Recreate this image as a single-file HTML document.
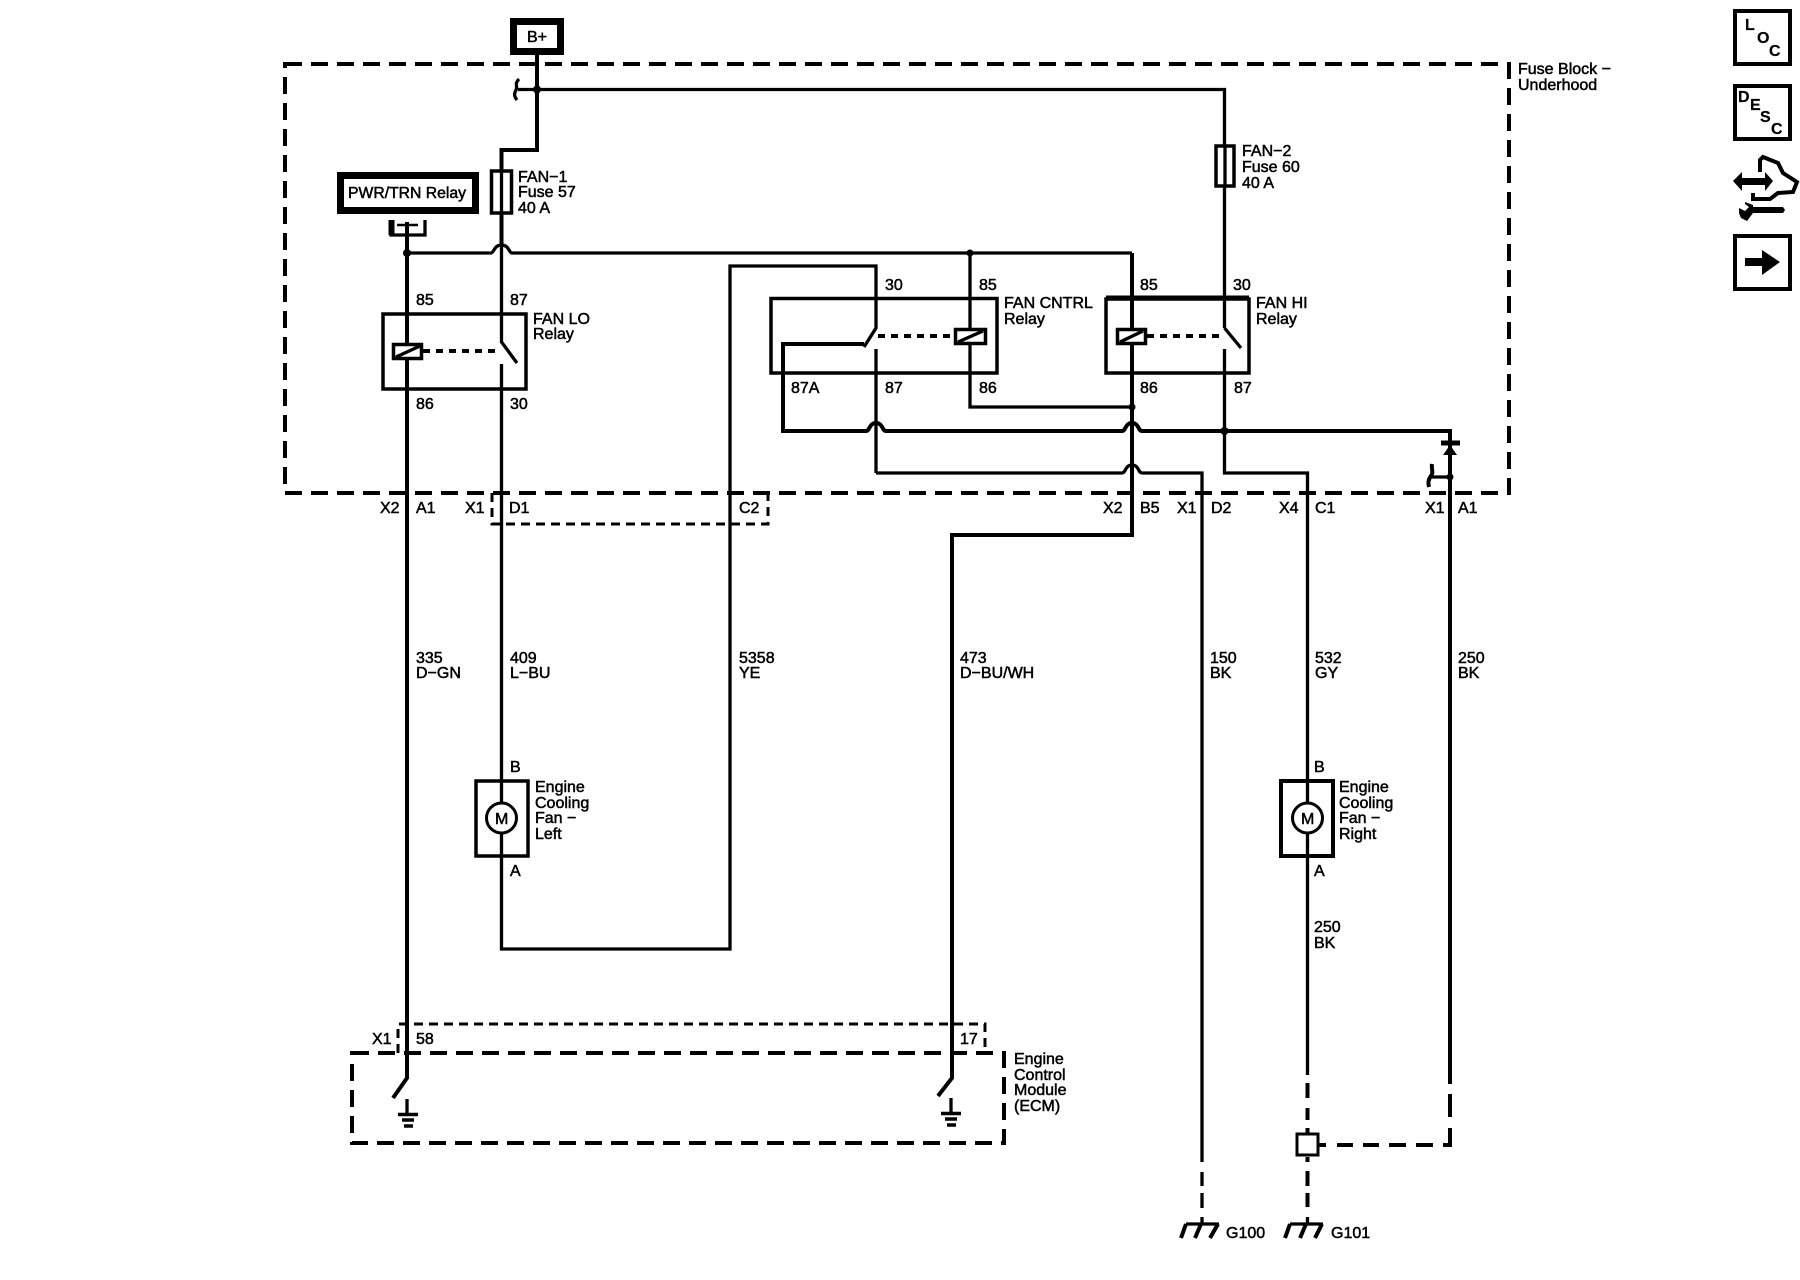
<!DOCTYPE html>
<html><head><meta charset="utf-8"><style>
html,body{margin:0;padding:0;background:#fff}
svg{display:block}
text{font-family:"Liberation Sans",sans-serif;font-size:16px;fill:#000;stroke:#000;stroke-width:.5}
.w{fill:none;stroke:#000;stroke-width:3.3}
.t{fill:none;stroke:#000;stroke-width:4}
.d{fill:none;stroke:#000;stroke-width:4;stroke-dasharray:17 9}
.s{fill:none;stroke:#000;stroke-width:3;stroke-dasharray:9 6}
.c{fill:none;stroke:#000;stroke-width:4;stroke-dasharray:7 6}
.b{fill:#fff;stroke:#000;stroke-width:3.5}
.n{fill:none;stroke:#000;stroke-width:3.5}
.i{font-weight:bold;font-size:16px;stroke-width:.2}
</style></head><body>
<svg width="1800" height="1280" viewBox="0 0 1800 1280" xmlns="http://www.w3.org/2000/svg">
<rect width="1800" height="1280" fill="#fff"/>
<!-- dashed enclosures -->
<rect x="285" y="64" width="1224" height="429" class="d"/>
<path d="M492 493V524H768V493" class="s"/>
<path d="M398 1053V1024H985V1053" class="s"/>
<rect x="352" y="1053" width="652" height="90" class="d"/>
<!-- B+ -->
<rect x="513.500" y="21.500" width="47" height="30" fill="#fff" stroke="#000" stroke-width="7"/>
<text x="527" y="42">B+</text>
<path d="M537 55V150H501.500V245" class="t"/>
<path d="M537 89.500H1224.500V328" class="w"/>
<circle cx="537" cy="89.500" r="4"/>
<path d="M537 89.500H518" class="w"/>
<path d="M519 79C514 84 518 86 516 90C514 94 514 96 517 100" class="w"/>
<!-- fuses -->
<rect x="491.500" y="171" width="20" height="42" class="b"/>
<path d="M501.500 171V213" class="w"/>
<rect x="1216" y="146" width="18" height="40" class="b"/>
<path d="M1225 146V186" class="w"/>
<!-- PWR/TRN -->
<rect x="340.500" y="175.500" width="135" height="35" fill="#fff" stroke="#000" stroke-width="7"/>
<text x="348" y="198" textLength="118" lengthAdjust="spacingAndGlyphs">PWR/TRN Relay</text>
<path d="M391 220V235H425V220" class="w" stroke-width="4"/>
<path d="M391.500 220V235" stroke="#000" stroke-width="6" fill="none"/>
<path d="M397 225H418" stroke="#000" stroke-width="2.500"/>
<path d="M407 222V1078L393 1098" class="t"/>
<circle cx="407" cy="253" r="4"/>
<!-- ctrl bus -->
<path d="M407 253H491C494 253 494 245 501.500 245C509 245 509 253 512 253H1132" class="w"/>
<circle cx="970" cy="253" r="3.500"/>
<path d="M501.500 245V342L517 363" class="w"/>
<path d="M501.500 364V949H730V266H876V328L864 347" class="w"/>
<path d="M864 344H783V431H866C870 431 869 423 876 423C883 423 882 431 886 431H1122C1126 431 1125 423 1132 423C1139 423 1138 431 1142 431H1450V1084" class="t"/>
<path d="M876 349V473" class="w"/>
<path d="M876 473H1122C1126 473 1125 465 1132 465C1139 465 1138 473 1142 473H1202V1162" class="w"/>
<path d="M1132 253V535H952V1078L938 1096" class="t"/>
<path d="M970 253V407H1132" class="w"/>
<circle cx="1132" cy="407" r="3.500"/>
<path d="M1224.500 328L1241 348" class="w"/>
<path d="M1224.500 349V473H1307.500V1075" class="w"/>
<circle cx="1224.500" cy="431" r="4"/>
<!-- relays -->
<rect x="383" y="314" width="143" height="75" class="n"/>
<rect x="771" y="298.500" width="226" height="74.500" class="n"/>
<rect x="1106" y="299" width="143" height="74" class="n"/>
<path d="M1106 298H1249" stroke="#000" stroke-width="5" fill="none"/>
<!-- relay coils -->
<rect x="393.500" y="344.500" width="28" height="14" class="b"/>
<path d="M396 357L420 346" class="w"/>
<rect x="955.500" y="329.500" width="30" height="14" class="b"/>
<path d="M958 342L983 331" class="w"/>
<rect x="1117.500" y="329.500" width="28" height="14" class="b"/>
<path d="M1120 342L1143 331" class="w"/>
<path d="M423 351H500" class="c"/>
<path d="M878 336H954" class="c"/>
<path d="M1147 336H1224" class="c"/>
<!-- diode + stub -->
<path d="M1441 443H1460" stroke="#000" stroke-width="5" fill="none"/>
<path d="M1450 445L1457 455H1443Z"/>
<path d="M1430 477H1450" class="w"/>
<circle cx="1450" cy="477" r="3.500"/>
<path d="M1432 464C1431 470 1434 472 1431 476C1428 480 1428 483 1429 487" class="t"/>
<!-- motors -->
<rect x="476" y="781" width="52" height="75" class="b"/>
<path d="M501.500 781V856" class="w"/>
<circle cx="501.500" cy="818" r="15" fill="#fff" stroke="#000" stroke-width="3"/>
<text x="495" y="824">M</text>
<rect x="1281" y="781" width="52" height="75" class="b" style="stroke-width:4"/>
<path d="M1307.500 781V856" class="w"/>
<circle cx="1307.500" cy="818" r="15" fill="#fff" stroke="#000" stroke-width="3"/>
<text x="1301" y="824">M</text>
<!-- grounds in ECM -->
<path d="M407 1099V1114" class="w"/>
<path d="M398 1114.500H418" stroke="#000" stroke-width="3.500"/>
<path d="M402 1120H414" stroke="#000" stroke-width="3.500"/>
<path d="M404 1126H413" stroke="#000" stroke-width="3.500"/>
<path d="M951 1098V1112" class="w"/>
<path d="M941 1113.500H961" stroke="#000" stroke-width="3.500"/>
<path d="M945 1119H957" stroke="#000" stroke-width="3.500"/>
<path d="M947 1125H956" stroke="#000" stroke-width="3.500"/>
<!-- lower dashed -->
<path d="M1202 1172V1186M1202 1193V1208" class="w"/>
<path d="M1450 1094V1117M1450 1128V1145H1443M1433 1145H1416M1406 1145H1389M1379 1145H1363M1353 1145H1337M1326 1145H1319" class="t"/>
<path d="M1307.500 1083V1098M1307.500 1108V1120M1307.500 1128V1133M1307.500 1157V1162M1307.500 1171V1186M1307.500 1193V1207" class="t"/>
<rect x="1297" y="1134" width="21" height="21" fill="#fff" stroke="#000" stroke-width="3"/>
<!-- chassis grounds -->
<path d="M1202 1217V1224M1186 1224H1219" class="w"/>
<path d="M1186 1224L1181 1238M1201 1224L1195 1238M1218 1224L1210 1238" class="t"/>
<path d="M1307.500 1217V1224M1290 1224H1323" class="w"/>
<path d="M1290 1224L1285 1238M1306 1224L1300 1238M1322 1224L1315 1238" class="t"/>
<!-- labels -->
<text x="518" y="182">FAN−1</text><text x="518" y="197">Fuse 57</text><text x="518" y="213">40 A</text>
<text x="1242" y="156">FAN−2</text><text x="1242" y="172">Fuse 60</text><text x="1242" y="188">40 A</text>
<text x="1518" y="74">Fuse Block −</text><text x="1518" y="90">Underhood</text>
<text x="416" y="305">85</text><text x="510" y="305">87</text>
<text x="533" y="324">FAN LO</text><text x="533" y="339">Relay</text>
<text x="416" y="409">86</text><text x="510" y="409">30</text>
<text x="885" y="290">30</text><text x="979" y="290">85</text><text x="1140" y="290">85</text><text x="1233" y="290">30</text>
<text x="1004" y="308">FAN CNTRL</text><text x="1004" y="324">Relay</text>
<text x="1256" y="308">FAN HI</text><text x="1256" y="324">Relay</text>
<text x="791" y="393">87A</text><text x="885" y="393">87</text><text x="979" y="393">86</text><text x="1140" y="393">86</text><text x="1234" y="393">87</text>
<text x="380" y="513">X2</text><text x="416" y="513">A1</text><text x="465" y="513">X1</text><text x="509" y="513">D1</text><text x="739" y="513">C2</text>
<text x="1103" y="513">X2</text><text x="1140" y="513">B5</text><text x="1177" y="513">X1</text><text x="1211" y="513">D2</text>
<text x="1279" y="513">X4</text><text x="1315" y="513">C1</text><text x="1425" y="513">X1</text><text x="1458" y="513">A1</text>
<text x="416" y="663">335</text><text x="416" y="678">D−GN</text>
<text x="510" y="663">409</text><text x="510" y="678">L−BU</text>
<text x="739" y="663">5358</text><text x="739" y="678">YE</text>
<text x="960" y="663">473</text><text x="960" y="678">D−BU/WH</text>
<text x="1210" y="663">150</text><text x="1210" y="678">BK</text>
<text x="1315" y="663">532</text><text x="1315" y="678">GY</text>
<text x="1458" y="663">250</text><text x="1458" y="678">BK</text>
<text x="510" y="772">B</text><text x="510" y="876">A</text>
<text x="535" y="792">Engine</text><text x="535" y="808">Cooling</text><text x="535" y="823">Fan −</text><text x="535" y="839">Left</text>
<text x="1314" y="772">B</text><text x="1314" y="876">A</text>
<text x="1339" y="792">Engine</text><text x="1339" y="808">Cooling</text><text x="1339" y="823">Fan −</text><text x="1339" y="839">Right</text>
<text x="1314" y="932">250</text><text x="1314" y="948">BK</text>
<text x="372" y="1044">X1</text><text x="416" y="1044">58</text><text x="960" y="1044">17</text>
<text x="1014" y="1064">Engine</text><text x="1014" y="1080">Control</text><text x="1014" y="1095">Module</text><text x="1014" y="1111">(ECM)</text>
<text x="1226" y="1238">G100</text><text x="1331" y="1238">G101</text>
<!-- icons -->
<rect x="1735" y="11" width="55" height="53" fill="#fff" stroke="#000" stroke-width="4"/>
<text class="i" x="1745" y="30">L</text><text class="i" x="1757" y="43">O</text><text class="i" x="1769" y="56">C</text>
<rect x="1735" y="86" width="55" height="53" fill="#fff" stroke="#000" stroke-width="4"/>
<text class="i" x="1738" y="102">D</text><text class="i" x="1750" y="110">E</text><text class="i" x="1760" y="122">S</text><text class="i" x="1771" y="134">C</text>
<path d="M1733 181L1742 172V178H1765V172L1773 181L1765 191V185H1742V191Z"/>
<path d="M1760 172V160L1763 157L1778 163L1783 173L1797 182L1793 192L1778 193L1770 199H1753V193" fill="none" stroke="#000" stroke-width="4"/>
<path d="M1745 202L1753 205V207H1783L1785 210L1783 213H1753L1747 221L1741 218L1739 213V208L1745 211L1749 207L1745 204Z"/>
<rect x="1735" y="236" width="55" height="53" fill="#fff" stroke="#000" stroke-width="4"/>
<path d="M1745 258H1762V250L1780 262L1762 275V266H1745Z"/>
</svg>
</body></html>
